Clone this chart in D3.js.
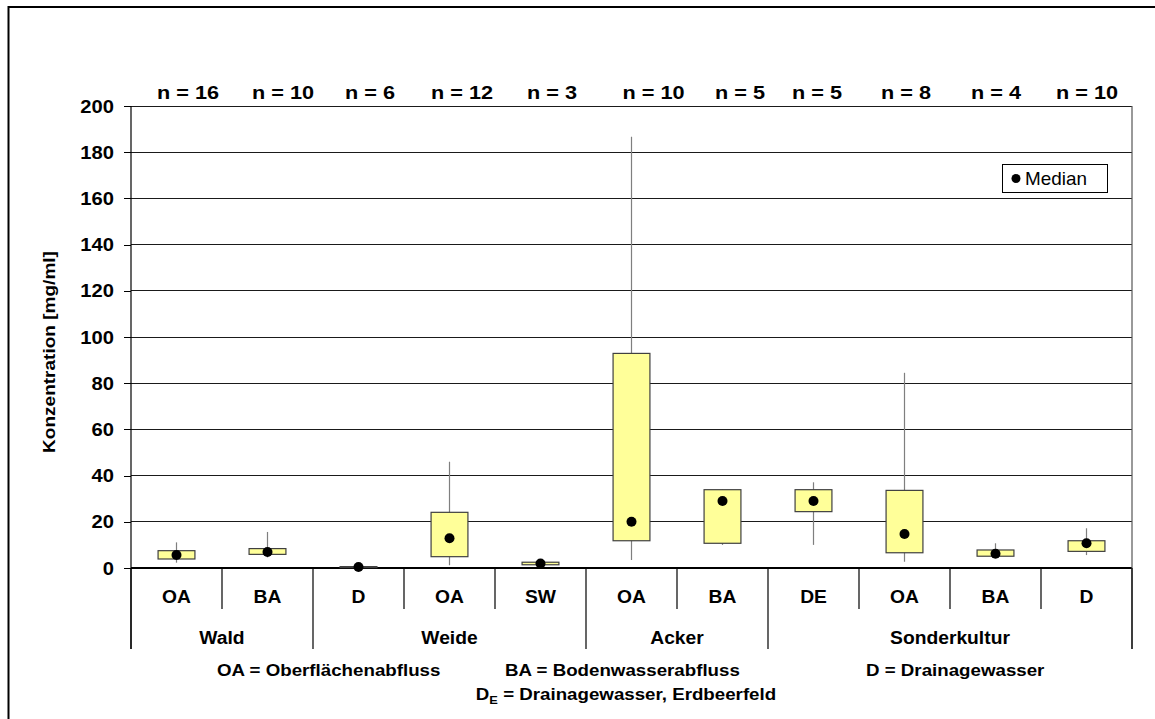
<!DOCTYPE html>
<html>
<head>
<meta charset="utf-8">
<script src="https://cdn.jsdelivr.net/npm/d3@7"></script>
<style>
  html, body { margin: 0; padding: 0; background: #fff; }
  svg { display: block; }
  text { font-family: "Liberation Sans", Arial, sans-serif; fill: #000; }
</style>
</head>
<body>
<svg id="chart" width="1155" height="719"></svg>
<script>
// Sample types per land use
const categories = ["OA", "BA", "D", "OA", "SW", "OA", "BA", "DE", "OA", "BA", "D"];
const groupNames = ["Wald", "Weide", "Acker", "Sonderkultur"];
const groupSizes = [2, 3, 2, 4];
const sampleCounts = [16, 10, 6, 12, 3, 10, 5, 5, 8, 4, 10];

// Box statistics in mg/ml
const whiskerLow   = [2.3, 4.6, 0.2, 1.2, 1.2, 3.5, 10.0, 10.0, 2.7, 4.5, 5.6];
const quartileLow  = [3.9, 5.9, 0.3, 4.9, 1.4, 11.8, 10.7, 24.4, 6.6, 5.1, 7.2];
const medians      = [5.6, 6.9, 0.4, 12.9, 1.9, 20.0, 29.0, 29.0, 14.7, 6.2, 10.7];
const quartileHigh = [7.5, 8.4, 0.6, 24.1, 2.5, 92.9, 33.9, 33.9, 33.6, 7.8, 11.8];
const whiskerHigh  = [11.1, 15.6, 0.7, 46.0, 2.7, 186.7, 34.0, 37.1, 84.5, 10.7, 17.2];

const yTicks = [0, 20, 40, 60, 80, 100, 120, 140, 160, 180, 200];
const yTitle = "Konzentration [mg/ml]";
const legendLabel = "Median";
const abbreviations = ["OA = Oberflächenabfluss", "BA = Bodenwasserabfluss", "D = Drainagewasser"];

const svg = d3.select("#chart");

const plot = { left: 131, right: 1132, top: 106, bottom: 568 };
const axisFloor = 649;   // lower end of the group separators
const tickFloor = 609;   // lower end of the category separators

const x = d3.scaleBand().domain(d3.range(categories.length)).range([plot.left, plot.right]).padding(0);
const y = d3.scaleLinear().domain([0, 200]).range([plot.bottom, plot.top]);
const boxW = x.bandwidth() * 0.405;
const cx = i => x(i) + x.bandwidth() / 2;

// Text helper: Arial-like glyphs, slightly widened
function label(g, str, px, py, opts) {
  const o = Object.assign({ size: 18, sx: 1.08, anchor: "middle", weight: "bold", rotate: 0 }, opts || {});
  return g.append("text")
    .attr("transform", `translate(${px},${py})` + (o.rotate ? ` rotate(${o.rotate})` : "") + ` scale(${o.sx},1)`)
    .attr("text-anchor", o.anchor)
    .attr("font-size", o.size)
    .attr("font-weight", o.weight)
    .text(str);
}

// Outer frame
svg.append("rect")
  .attr("x", 8.5).attr("y", 7).attr("width", 1200).attr("height", 800)
  .attr("fill", "none").attr("stroke", "#000").attr("stroke-width", 2);

// Horizontal gridlines
svg.append("g")
  .selectAll("line")
  .data(yTicks)
  .join("line")
  .attr("x1", plot.left).attr("x2", plot.right)
  .attr("y1", d => y(d)).attr("y2", d => y(d))
  .attr("stroke", d => d === 0 ? "#000" : "#1a1a1a")
  .attr("stroke-width", d => d === 0 ? 1.6 : 1)
  .attr("shape-rendering", "crispEdges");

// Right border of the plot area
svg.append("line")
  .attr("x1", plot.right).attr("x2", plot.right)
  .attr("y1", plot.top).attr("y2", axisFloor)
  .attr("stroke", "#555").attr("stroke-width", 1.2);

// Y axis with outward ticks
const yAxis = svg.append("g")
  .attr("transform", `translate(${plot.left},0)`)
  .call(d3.axisLeft(y).tickValues(yTicks).tickSize(7).tickFormat(""));
yAxis.select(".domain").remove();
yAxis.selectAll(".tick line").attr("stroke", "#000").attr("shape-rendering", "crispEdges");
svg.append("line")
  .attr("x1", plot.left).attr("x2", plot.left)
  .attr("y1", plot.top).attr("y2", axisFloor)
  .attr("stroke", "#000").attr("stroke-width", 1.2);

const tickLabels = svg.append("g");
yTicks.forEach(t => label(tickLabels, String(t), 114, y(t) + 6.5, { anchor: "end", size: 18, sx: 1.12 }));

// Y axis title
label(svg, yTitle, 55, 352, { rotate: -90, size: 17, sx: 1.12 });

// Category separators below the axis
let start = 0;
const groupStarts = groupSizes.map(s => { const v = start; start += s; return v; });
const groupEdges = new Set(groupStarts.concat([categories.length]));
svg.append("g")
  .selectAll("line")
  .data(d3.range(categories.length + 1))
  .join("line")
  .attr("x1", i => i < categories.length ? x(i) : plot.right)
  .attr("x2", i => i < categories.length ? x(i) : plot.right)
  .attr("y1", plot.bottom)
  .attr("y2", i => groupEdges.has(i) ? axisFloor : tickFloor)
  .attr("stroke", "#000").attr("stroke-width", 1.2);

// Category and group labels
const catG = svg.append("g");
categories.forEach((c, i) => label(catG, c, cx(i), 603, { size: 18, sx: 1.07 }));
groupNames.forEach((gName, k) => {
  const a = x(groupStarts[k]);
  const b = x(groupStarts[k] + groupSizes[k] - 1) + x.bandwidth();
  label(catG, gName, (a + b) / 2, 644, { size: 18, sx: 1.07 });
});

// Sample sizes above the plot (hand-placed text boxes, nudged off the column centres)
const nShift = [11.5, 15.5, 11.5, 12.5, 11.5, 22, 17.5, 3.5, 1.5, 0.5, 0.5];
const nG = svg.append("g");
sampleCounts.forEach((n, i) => label(nG, `n = ${n}`, cx(i) + nShift[i], 99, { size: 17.5, sx: 1.24 }));

// Boxes
const boxes = svg.append("g")
  .selectAll("g")
  .data(d3.range(categories.length))
  .join("g");

boxes.append("line")
  .attr("x1", cx).attr("x2", cx)
  .attr("y1", i => y(whiskerHigh[i])).attr("y2", i => y(whiskerLow[i]))
  .attr("stroke", "#7f7f7f").attr("stroke-width", 1.2);

boxes.append("rect")
  .attr("x", i => cx(i) - boxW / 2)
  .attr("width", boxW)
  .attr("y", i => y(quartileHigh[i]))
  .attr("height", i => Math.max(1, y(quartileLow[i]) - y(quartileHigh[i])))
  .attr("fill", "#ffff99")
  .attr("stroke", "#404040").attr("stroke-width", 1.2);

boxes.append("circle")
  .attr("cx", cx)
  .attr("cy", i => y(medians[i]))
  .attr("r", 5)
  .attr("fill", "#000");

// Legend
const lg = svg.append("g");
lg.append("rect")
  .attr("x", 1002.5).attr("y", 164.5).attr("width", 105).attr("height", 28)
  .attr("fill", "#fff").attr("stroke", "#000").attr("stroke-width", 1);
lg.append("circle").attr("cx", 1016).attr("cy", 178.5).attr("r", 4.5).attr("fill", "#000");
label(lg, legendLabel, 1025, 185, { anchor: "start", weight: "normal", size: 18, sx: 1.05 });

// Abbreviation notes
const notes = svg.append("g");
const noteStarts = [217, 505, 866];
abbreviations.forEach((t, k) => label(notes, t, noteStarts[k], 676, { anchor: "start", size: 16, sx: 1.17 }));
const de = notes.append("text")
  .attr("transform", `translate(626,700) scale(1.17,1)`)
  .attr("text-anchor", "middle")
  .attr("font-size", 16)
  .attr("font-weight", "bold");
de.append("tspan").text("D");
de.append("tspan").attr("font-size", 11).attr("dy", 4).text("E");
de.append("tspan").attr("dy", -4).text(" = Drainagewasser, Erdbeerfeld");
</script>
</body>
</html>
